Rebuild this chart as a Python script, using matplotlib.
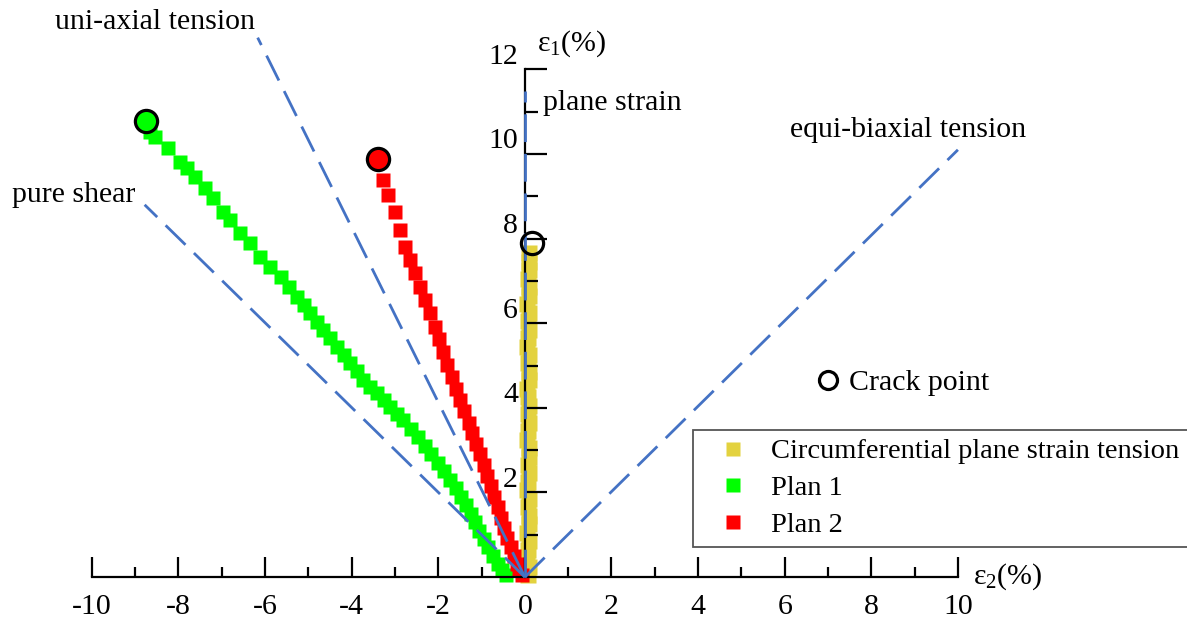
import matplotlib
matplotlib.use("Agg")
import matplotlib.pyplot as plt
from matplotlib.lines import Line2D

plt.rcParams['font.family'] = ['Liberation Serif', 'DejaVu Serif']
plt.rcParams['mathtext.fontset'] = 'custom'
plt.rcParams['mathtext.rm'] = 'Liberation Serif'
plt.rcParams['mathtext.it'] = 'Liberation Serif:italic'
plt.rcParams['axes.unicode_minus'] = False
plt.rcParams['lines.scale_dashes'] = False

# ---------------- data ----------------
x_ticks = [-10, -8, -6, -4, -2, 0, 2, 4, 6, 8, 10]
x_minor = [-9, -7, -5, -3, -1, 1, 3, 5, 7, 9]
y_ticks = [2, 4, 6, 8, 10, 12]
y_minor = [1, 3, 5, 7, 9, 11]

# circumferential plane strain tension (yellow)
yel_x = [0.07, 0.09, 0.06, 0.08, 0.10, 0.06, 0.09, 0.10, 0.07, 0.09,
         0.06, 0.08, 0.10, 0.07, 0.09, 0.10, 0.06, 0.08, 0.09, 0.07,
         0.10, 0.07, 0.06, 0.09, 0.10, 0.07, 0.09, 0.06, 0.08, 0.10,
         0.07, 0.09, 0.06, 0.09, 0.10, 0.07, 0.09, 0.09, 0.10]
yel_y = [0.05, 0.25, 0.45, 0.65, 0.85, 1.05, 1.25, 1.45, 1.65, 1.85,
         2.05, 2.25, 2.45, 2.65, 2.85, 3.05, 3.25, 3.45, 3.65, 3.85,
         4.05, 4.25, 4.45, 4.65, 4.85, 5.05, 5.25, 5.45, 5.65, 5.85,
         6.05, 6.25, 6.45, 6.65, 6.85, 7.05, 7.25, 7.45, 7.65]

# Plan 1 (green)
p1_x = [-0.43, -0.53, -0.63, -0.74, -0.85, -0.95, -1.05, -1.15, -1.25, -1.35,
        -1.48, -1.60, -1.73, -1.87, -2.01, -2.16, -2.31, -2.47, -2.64, -2.81,
        -2.96, -3.11, -3.26, -3.41, -3.57, -3.73, -3.88, -4.03, -4.18, -4.34,
        -4.49, -4.66, -4.80, -4.96, -5.11, -5.26, -5.44, -5.64, -5.88, -6.11,
        -6.35, -6.58, -6.80, -6.97, -7.20, -7.39, -7.61, -7.80, -7.96, -8.24,
        -8.53, -8.65]
p1_y = [0.05, 0.16, 0.32, 0.50, 0.70, 0.90, 1.10, 1.30, 1.50, 1.70,
        1.90, 2.10, 2.30, 2.50, 2.70, 2.90, 3.10, 3.30, 3.50, 3.71,
        3.86, 4.02, 4.18, 4.35, 4.50, 4.66, 4.86, 5.06, 5.25, 5.44,
        5.64, 5.84, 6.04, 6.24, 6.43, 6.62, 6.85, 7.09, 7.33, 7.57,
        7.90, 8.13, 8.44, 8.63, 8.96, 9.20, 9.46, 9.67, 9.81, 10.14,
        10.40, 10.52]

# Plan 2 (red)
p2_x = [-0.07, -0.13, -0.19, -0.26, -0.33, -0.41, -0.48, -0.55, -0.63, -0.71,
        -0.79, -0.87, -0.94, -1.03, -1.12, -1.21, -1.30, -1.40, -1.50, -1.59,
        -1.69, -1.79, -1.89, -1.98, -2.08, -2.19, -2.30, -2.42, -2.54, -2.65,
        -2.77, -2.89, -2.99, -3.16, -3.28]
p2_y = [0.06, 0.17, 0.32, 0.50, 0.70, 0.92, 1.15, 1.40, 1.65, 1.90,
        2.15, 2.40, 2.65, 2.90, 3.15, 3.40, 3.65, 3.92, 4.18, 4.45,
        4.72, 5.02, 5.32, 5.62, 5.92, 6.24, 6.55, 6.86, 7.19, 7.49,
        7.80, 8.20, 8.63, 9.03, 9.39]

# crack points (x, y) for yellow, green, red
crack_x = [0.17, -8.75, -3.39]
crack_y = [7.90, 10.78, 9.88]

# reference strain paths: end points of the dashed lines from the origin
path_names = ['uni-axial tension', 'pure shear', 'plane strain', 'equi-biaxial tension']
path_end_x = [-6.17, -8.78, 0.0, 10.0]
path_end_y = [12.75, 8.8, 11.5, 10.1]

series_labels = ['Circumferential plane strain tension', 'Plan 1', 'Plan 2']

# ---------------- style ----------------
YEL = '#E3D23F'
GRN = '#00FF00'
RED = '#FF0000'
BLUE = '#4472C4'
FS = 21.5

fig = plt.figure(figsize=(11.87, 6.19), dpi=100)
ax = fig.add_axes([0, 0, 1, 1])
ax.set_xlim(-12.12, 15.29)
ax.set_ylim(-0.99, 13.64)
ax.set_axisbelow(False)

ms = 10
ax.plot(yel_x, yel_y, 's', color=YEL, ms=12, mec='none', zorder=2)
ax.plot(p1_x, p1_y, 's', color=GRN, ms=ms, mec='none', zorder=2)
ax.plot(p2_x, p2_y, 's', color=RED, ms=ms, mec='none', zorder=2)

# dashed reference lines
for ex, ey in zip(path_end_x, path_end_y):
    ax.plot([0, ex], [0, ey], color=BLUE, lw=2.0, dashes=(20, 8.5), zorder=3)

# crack points
crack_fc = ['none', GRN, RED]
for cx, cy, fc in zip(crack_x, crack_y, crack_fc):
    ax.plot([cx], [cy], 'o', ms=16, mfc=fc, mec='black', mew=2.3, zorder=4)

# spines
for s in ['top', 'right']:
    ax.spines[s].set_visible(False)
ax.spines['left'].set_position(('data', 0))
ax.spines['bottom'].set_position(('data', 0))
ax.spines['left'].set_bounds(0, 12)
ax.spines['bottom'].set_bounds(-10, 10)
for s in ['left', 'bottom']:
    ax.spines[s].set_linewidth(1.6)
    ax.spines[s].set_color('black')

ax.set_xticks(x_ticks)
ax.set_xticks(x_minor, minor=True)
ax.set_xticklabels([str(v) for v in x_ticks])
ax.set_yticks(y_ticks)
ax.set_yticks(y_minor, minor=True)
ax.set_yticklabels([])
ax.tick_params(axis='x', which='major', direction='in', length=14.5, width=1.6,
               labelsize=FS, pad=12.5)
ax.tick_params(axis='x', which='minor', direction='in', length=7.5, width=1.6)
ax.tick_params(axis='y', which='major', direction='in', length=16, width=1.6)
ax.tick_params(axis='y', which='minor', direction='in', length=9, width=1.6)

# y tick labels (drawn slightly above their ticks as in the original)
for v in y_ticks:
    ax.text(-0.16, v + 0.3, str(v), fontsize=FS, ha='right', va='center')

# axis labels
ax.text(0.28, 12.6, 'ε$_{\\mathrm{1}}$(%)', fontsize=FS, ha='left', va='center')
ax.text(10.35, 0.0, 'ε$_{\\mathrm{2}}$(%)', fontsize=FS, ha='left', va='center')

# path annotations
label_pos = [(-10.85, 13.12), (-11.85, 9.03), (0.42, 11.2), (6.12, 10.57)]
for name, (tx, ty) in zip(path_names, label_pos):
    ax.text(tx, ty, name, fontsize=FS, ha='left', va='center')

# legends
handles = [Line2D([], [], ls='none', marker='s', ms=ms, color=c, mec='none')
           for c in [YEL, GRN, RED]]
leg = ax.legend(handles, series_labels, loc='upper left',
                bbox_to_anchor=(693 / 1187, (619 - 430) / 619),
                bbox_transform=fig.transFigure, borderaxespad=0,
                borderpad=0.3, handlelength=2.2, handletextpad=0.25,
                labelspacing=0.38, fontsize=20.5, fancybox=False, framealpha=1,
                edgecolor='#555555')
leg.get_frame().set_linewidth(1.3)
ax.add_artist(leg)

crack_handle = Line2D([], [], ls='none', marker='o', ms=13, mfc='none',
                      mec='black', mew=2.3)
leg2 = ax.legend([crack_handle], ['Crack point'], loc='center left',
                 bbox_to_anchor=(813 / 1187, (619 - 383) / 619),
                 bbox_transform=fig.transFigure, borderaxespad=0,
                 borderpad=0, handlelength=1.0, handletextpad=0.22,
                 fontsize=FS, frameon=False)

fig.savefig('out.png', dpi=100)
